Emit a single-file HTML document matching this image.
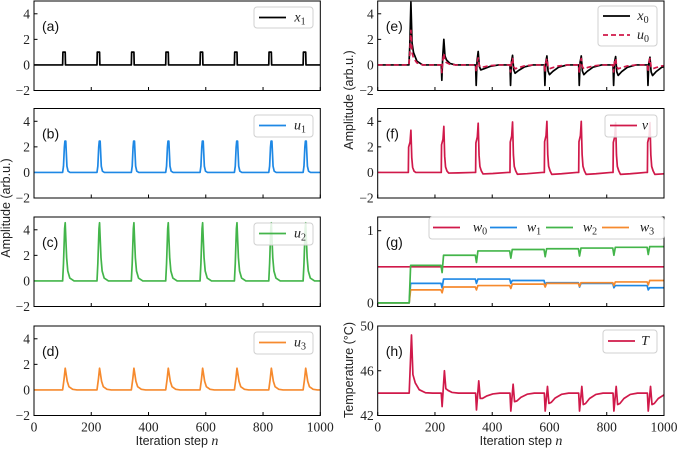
<!DOCTYPE html>
<html><head><meta charset="utf-8"><style>
html,body{margin:0;padding:0;background:#fff;}
svg{display:block;}
.tick{font-family:"Liberation Serif",serif;font-size:13.5px;fill:#222;}
.lab{font-family:"Liberation Sans",sans-serif;font-size:12.5px;fill:#222;}
.plab{font-family:"Liberation Sans",sans-serif;font-size:14px;fill:#111;}
.leg{font-family:"Liberation Serif",serif;font-style:italic;font-size:14px;fill:#222;}
</style></head><body>
<svg id="fig" width="677" height="450" viewBox="0 0 677 450" xmlns="http://www.w3.org/2000/svg"></svg>
<script>
// ---- data ----
const onsetsL=[100,220,340,460,580,700,820,940];
const onsetsR=[107,222,342,462,582,702,822,942];
const x1Height=[1,1,1,1,1,1,1,1];
const u1Peak=[2.45,2.45,2.45,2.45,2.45,2.45,2.45,2.45];
const u2Peak=[4.55,4.55,4.55,4.55,4.55,4.55,4.55,4.55];
const u3Peak=[1.7,1.7,1.7,1.7,1.7,1.7,1.7,1.7];
const x0Dip=[0,-1.2,-1.6,-1.6,-1.6,-1.6,-1.6,-1.6];
const x0Spike=[4.9,2.0,1.05,0.75,0.7,0.7,0.65,0.6];
const x0Under=[0,0,-0.6,-0.8,-0.9,-0.9,-0.95,-0.95];
const u0Dip=[0,-0.6,-0.55,-0.55,-0.55,-0.55,-0.55,-0.55];
const u0Spike=[2.7,0.9,0.55,0.5,0.5,0.5,0.5,0.5];
const u0Under=[0,0,-0.3,-0.4,-0.4,-0.4,-0.4,-0.4];
const vPeak=[3.3,3.6,3.85,3.95,4.0,4.0,3.9,3.9];
const vUnder=[0,-0.05,-0.12,-0.14,-0.15,-0.15,-0.15,-0.15];
const w0Levels=[0.5,0.5,0.5,0.5,0.5,0.5,0.5,0.5,0.5];
const w1Levels=[0,0.27,0.33,0.33,0.31,0.28,0.27,0.24,0.21];
const w2Levels=[0,0.52,0.66,0.72,0.74,0.75,0.76,0.77,0.78];
const w3Levels=[0,0.18,0.22,0.24,0.26,0.27,0.28,0.29,0.31];
const w1Dip=[0,0.06,0.06,0.06,0.06,0.06,0.06,0.06];
const w2Dip=[0,0.1,0.1,0.1,0.1,0.1,0.1,0.1];
const w3Dip=[0,0.04,0.04,0.04,0.04,0.04,0.04,0.04];
const w0Dip=[0,0,0,0,0,0,0,0];
const TBase=44;
const TDip=[44,42.8,42.5,42.4,42.4,42.4,42.4,42.4];
const TSpike=[49.2,46,45.1,44.8,44.6,44.6,44.6,44.6];
const TUnder=[44.3,44.0,43.4,43.2,43.1,43.0,43.0,43.0];
const xTicks=[0,200,400,600,800,1000];
const ampTicks=[-2,0,2,4];
const wTicks=[0,1];
const TTicks=[42,46,50];

const NS="http://www.w3.org/2000/svg";
const svg=document.getElementById('fig');
function el(tag,attrs,parent){const e=document.createElementNS(NS,tag);for(const k in attrs)e.setAttribute(k,attrs[k]);(parent||svg).appendChild(e);return e;}

const C={k:'#000',b:'#1E88E5',g:'#43B54A',o:'#F68A2E',r:'#D0194A'};
const rowTop=[1,108.5,217,326], rowH=89.5;
const colX=[34,377.7], colW=286.3;

function makeAxis(col,row,ymin,ymax,yticks,name,showX){
  const x0=colX[col],y0=rowTop[row];
  const ax={sx:n=>x0+n/1000*colW, sy:v=>y0+rowH-(v-ymin)/(ymax-ymin)*rowH, x0,y0};
  const g=el('g',{});
  
  
  const cp=el('clipPath',{id:'cp'+name},g);
  el('rect',{x:x0,y:y0,width:colW,height:rowH},cp);
  ax.g=g; ax.clip='url(#cp'+name+')';
  xTicks.forEach(t=>{
    const l=el('line',{x1:ax.sx(t),x2:ax.sx(t),y1:y0+rowH,y2:y0+rowH-3.5,stroke:'#000','stroke-width':1},g);
    
    
    if(showX){const tx=el('text',{x:ax.sx(t),y:y0+rowH+16,'text-anchor':'middle',class:'tick'},g);tx.textContent=t;
      
      }
  });
  yticks.forEach(t=>{
    const l=el('line',{x1:x0,x2:x0+3.5,y1:ax.sy(t),y2:ax.sy(t),stroke:'#000','stroke-width':1},g);
    
    
    const tx=el('text',{x:x0-4,y:ax.sy(t)+4.5,'text-anchor':'end',class:'tick'},g);tx.textContent=(t<0?'\u2212'+(-t):t);
    
    
  });
  return ax;
}
function frame(ax){
  const r=el('rect',{x:ax.x0,y:ax.y0,width:colW,height:rowH,fill:'none',stroke:'#000','stroke-width':1},ax.g);
  
  
}
function line(ax,pts,color,name,dash){
  const d=pts.map((p,i)=>(i?'L':'M')+ax.sx(p[0]).toFixed(2)+','+ax.sy(p[1]).toFixed(2)).join('');
  const p=el('path',{d,fill:'none',stroke:color,'stroke-width':1.7,'stroke-linejoin':'round','clip-path':ax.clip},ax.g);
  if(dash)p.setAttribute('stroke-dasharray',dash);
  
  
}
function build(onsets,base,shape){
  const pts=[[0,base]];
  onsets.forEach((on,i)=>{pts.push([on,base]);shape(i).forEach(([d,v])=>pts.push([on+d,v]));});
  pts.push([1100,base]);
  return pts;
}
function buildW(onsets,levels,dips){
  const pts=[[0,levels[0]]];
  onsets.forEach((on,i)=>{pts.push([on-1,levels[i]]);pts.push([on+3,levels[i]-dips[i]]);pts.push([on+8,levels[i+1]]);});
  pts.push([1000,levels[levels.length-1]]);
  return pts;
}
function label(ax,txt,name){
  const t=el('text',{x:ax.x0+8,y:ax.y0+30,class:'plab'},ax.g);t.textContent=txt;
  
  
}
function legText(parent,x,y,sym,sub){
  const t=el('text',{x,y,class:'leg','text-anchor':'middle'},parent);
  t.textContent=sym;
  if(sub!==''){const s=el('tspan',{dy:3,'font-size':10,'font-style':'normal'},t);s.textContent=sub;}
  return t;
}
function legend(ax,box,entries,name){
  const g=el('g',{},ax.g);
  
  
  el('rect',{x:box[0],y:box[1],width:box[2],height:box[3],rx:3,fill:'#fff','fill-opacity':0.85,stroke:'#d0d0d0','stroke-width':1},g);
  entries.forEach(e=>{
    const l=el('line',{x1:e.lx,x2:e.lx+27,y1:e.y,y2:e.y,stroke:e.c,'stroke-width':1.7},g);
    if(e.dash)l.setAttribute('stroke-dasharray',e.dash);
    
    
    const t=legText(g,e.tx,e.y+4,e.s,e.sub);
    
    
  });
}
const std=(y,c,s,sub)=>({lx:259,tx:300,y,c,s,sub});

// (a)
let ax=makeAxis(0,0,-2,5,ampTicks,'panel-a',false);
line(ax,build(onsetsL,0,i=>[[1,x1Height[i]],[9,x1Height[i]],[10,0]]),C.k,'series-x1');
frame(ax);label(ax,'(a)','panel-label-a');
legend(ax,[254,7,59,21],[std(17.5,C.k,'x','1')],'legend-x1');
// (b)
ax=makeAxis(0,1,-2,5,ampTicks,'panel-b',false);
line(ax,build(onsetsL,0,i=>{const p=u1Peak[i];return[[3,.2*p],[6,.8*p],[8,p],[11,p],[13,.6*p],[15,.2*p],[19,.04*p],[26,0]];}),C.b,'series-u1');
frame(ax);label(ax,'(b)','panel-label-b');
legend(ax,[254,115,59,22],[std(125.5,C.b,'u','1')],'legend-u1');
// (c)
ax=makeAxis(0,2,-2,5,ampTicks,'panel-c',false);
line(ax,build(onsetsL,0,i=>{const p=u2Peak[i];return[[3,.3*p],[7,.9*p],[9,p],[11,.75*p],[14,.4*p],[18,.17*p],[25,.05*p],[40,0]];}),C.g,'series-u2');
frame(ax);label(ax,'(c)','panel-label-c');
legend(ax,[254,223,59,22],[std(233.5,C.g,'u','2')],'legend-u2');
// (d)
ax=makeAxis(0,3,-2,5,ampTicks,'panel-d',true);
line(ax,build(onsetsL,0,i=>{const p=u3Peak[i];return[[5,.5*p],[9,p],[12,.75*p],[16,.4*p],[22,.15*p],[35,.03*p],[50,0]];}),C.o,'series-u3');
frame(ax);label(ax,'(d)','panel-label-d');
legend(ax,[254,332,59,22],[std(342.5,C.o,'u','3')],'legend-u3');

// (e)
ax=makeAxis(1,0,-2,5,ampTicks,'panel-e',false);
const shp=(dip,sp,un)=>[[2,dip],[5,sp*.3],[9,sp],[13,sp*.35+un*.8],[18,un+sp*.2],[30,un*.6+sp*.06],[50,un*.2],[80,0]];
line(ax,build(onsetsR,0,i=>shp(x0Dip[i],x0Spike[i],x0Under[i])),C.k,'series-x0');
line(ax,build(onsetsR,0,i=>shp(u0Dip[i],u0Spike[i],u0Under[i])),C.r,'series-u0','5,3');
frame(ax);label(ax,'(e)','panel-label-e');
legend(ax,[598,6,59,40],[{lx:603,tx:643,y:16,c:C.k,s:'x',sub:'0'},{lx:603,tx:643,y:35,c:C.r,s:'u',sub:'0',dash:'5,3'}],'legend-e');
// (f)
ax=makeAxis(1,1,-2,5,ampTicks,'panel-f',false);
line(ax,build(onsetsR,0,i=>{const p=vPeak[i],u=vUnder[i];return[[1,.6*p],[6,.72*p],[9,p],[12,.35*p],[15,.12*p],[20,.03*p],[26,u],[60,u*.7],[113,0]];}),C.r,'series-v');
frame(ax);label(ax,'(f)','panel-label-f');
legend(ax,[605,115,52,22],[{lx:610,tx:645,y:125.5,c:C.r,s:'v',sub:''}],'legend-v');
// (g)
ax=makeAxis(1,2,-0.05,1.19,wTicks,'panel-g',false);
line(ax,buildW(onsetsR,w0Levels,w0Dip),C.r,'series-w0');
line(ax,buildW(onsetsR,w1Levels,w1Dip),C.b,'series-w1');
line(ax,buildW(onsetsR,w3Levels,w3Dip),C.o,'series-w3');
line(ax,buildW(onsetsR,w2Levels,w2Dip),C.g,'series-w2');
frame(ax);label(ax,'(g)','panel-label-g');
legend(ax,[429,217,235,22],[{lx:433,tx:480,y:227.5,c:C.r,s:'w',sub:'0'},{lx:490,tx:534,y:227.5,c:C.b,s:'w',sub:'1'},{lx:546,tx:590,y:227.5,c:C.g,s:'w',sub:'2'},{lx:602,tx:647,y:227.5,c:C.o,s:'w',sub:'3'}],'legend-g');
// (h)
ax=makeAxis(1,3,42,50,TTicks,'panel-h',true);
line(ax,build(onsetsR,TBase,i=>{const d=TDip[i],s=TSpike[i],u=TUnder[i];return[[3,d],[11,s],[16,u-.2+(s-44)*.3],[24,u+(s-44)*.12],[38,(u+44)/2+(s-44)*.03],[60,44-(44-u)*.12],[85,44]];}),C.r,'series-T');
frame(ax);label(ax,'(h)','panel-label-h');
legend(ax,[603,330,54,23],[{lx:608,tx:645,y:341,c:C.r,s:'T',sub:''}],'legend-T');

// axis titles
function title(x,y,txt,name,rot){
  const t=el('text',{x,y,class:'lab','text-anchor':'middle'});
  if(rot)t.setAttribute('transform','rotate(-90 '+x+' '+y+')');
  t.innerHTML=txt;
  
  
}
title(10,208,'Amplitude (arb.u.)','y-axis-title-left',true);
title(353,100,'Amplitude (arb.u.)','y-axis-title-right-top',true);
title(353,370,'Temperature (°C)','y-axis-title-right-bottom',true);
title(177,445,'Iteration step <tspan font-family="Liberation Serif" font-style="italic" font-size="14">n</tspan>','x-axis-title-left',false);
title(521,445,'Iteration step <tspan font-family="Liberation Serif" font-style="italic" font-size="14">n</tspan>','x-axis-title-right',false);
</script>
</body></html>
